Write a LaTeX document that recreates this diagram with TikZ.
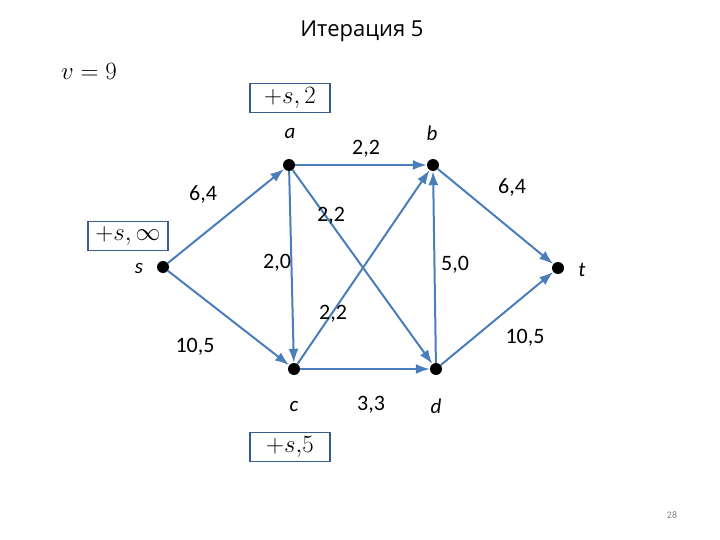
\documentclass[tikz,border=0pt]{standalone}
\usepackage{fontspec}
\setmainfont{Carlito}
\newfontfamily\titlefont{Open Sans}
\usetikzlibrary{arrows.meta,positioning}
\definecolor{edgeblue}{RGB}{74,126,187}
\definecolor{boxblue}{RGB}{56,93,138}
\tikzset{
  vert/.style={circle,fill=black,inner sep=0pt,minimum size=12pt},
  flow/.style={edgeblue,line width=2pt,->},
  mark box/.style={draw=boxblue,line width=1.2pt,minimum width=80pt,minimum height=29pt,font=\fontsize{25}{27}\selectfont},
  lbl/.style={font=\fontsize{22}{24}\selectfont},
  vname/.style={font=\fontsize{21}{23}\selectfont\itshape}
}
\begin{document}
\begin{tikzpicture}[x=1pt,y=-1pt,>={Latex[length=14pt,width=10pt]}]
            \useasboundingbox (0,0) rectangle (720,540);
            \node[font=\titlefont\fontsize{22}{26}\selectfont] (title) at (362,31) {Итерация 5};
            \node[font=\fontsize{25}{28}\selectfont] (value) at (89,71) {$v=9$};
            % vertices
            \node[vert] (s) at (163,267) {};
            \node[vert] (a) at (289,165) {};
            \node[vert] (b) at (433,165) {};
            \node[vert] (c) at (294,369) {};
            \node[vert] (d) at (436,369) {};
            \node[vert] (t) at (558,268) {};
            \node[vname] (sname) at (139,268) {s};
            \node[vname] (aname) at (290,133) {a};
            \node[vname] (bname) at (432,133) {b};
            \node[vname] (cname) at (294,406) {c};
            \node[vname] (dname) at (436,406) {d};
            \node[vname] (tname) at (582,270) {t};
            % marks
            \node[mark box] (amark) at (290,98) {$+s,2$};
            \node[mark box] (smark) at (128,236) {$+s,\infty$};
            \node[mark box] (cmark) at (290,447) {$+s{,}5$};
            % arcs
            \draw[flow] (s) -- (a);
            \draw[flow] (s) -- (c);
            \draw[flow] (a) -- (b);
            \draw[flow] (a) -- (c);
            \draw[flow] (a) -- (d);
            \draw[flow] (c) -- (b);
            \draw[flow] (c) -- (d);
            \draw[flow] (d) -- (b);
            \draw[flow] (b) -- (t);
            \draw[flow] (d) -- (t);
            % capacities, flows
            \node[lbl] (sa) at (203,194) {6,4};
            \node[lbl] (sc) at (195,347) {10,5};
            \node[lbl] (ab) at (366,149) {2,2};
            \node[lbl] (ad) at (331,216) {2,2};
            \node[lbl] (ac) at (277,263) {2,0};
            \node[lbl] (cb) at (333,314) {2,2};
            \node[lbl] (cd) at (371,405) {3,3};
            \node[lbl] (db) at (455,265) {5,0};
            \node[lbl] (bt) at (512,187) {6,4};
            \node[lbl] (dt) at (525,338) {10,5};
            \node[font=\fontsize{10}{11}\selectfont,gray] (page) at (672,515) {28};
        \end{tikzpicture}
\end{document}
